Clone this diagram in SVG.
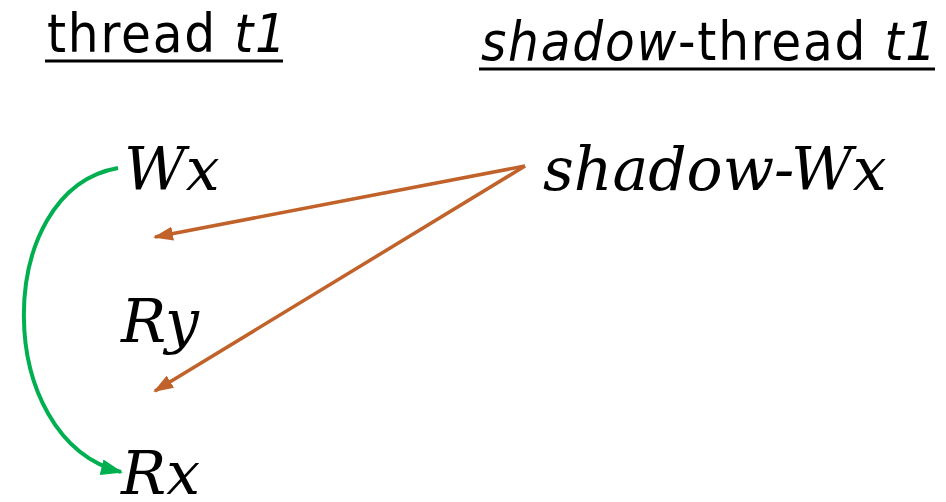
<svg xmlns="http://www.w3.org/2000/svg" width="946" height="502" viewBox="0 0 946 502">
  <style>
    .hdr { font-family: "DejaVu Sans Condensed", "Liberation Sans Narrow", "Open Sans", sans-serif; font-stretch: condensed; font-size: 54px; letter-spacing: 1.8px; fill: #000; }
    .lbl { font-family: "DejaVu Serif", "Liberation Serif", serif; font-style: italic; font-size: 60px; fill: #000; }
    .uline { stroke: #000; stroke-width: 3; }
    .orange { fill: none; stroke: #C0622A; stroke-width: 3.5; }
    .green { fill: none; stroke: #00B050; stroke-width: 4; }
  </style>
  <defs>
    <marker id="arrOrange" markerWidth="20" markerHeight="14" refX="18" refY="7" orient="auto" markerUnits="userSpaceOnUse">
      <path d="M0,0 L20,7 L0,14 z" fill="#C0622A"/>
    </marker>
    <marker id="arrGreen" markerWidth="22" markerHeight="16" refX="20" refY="8" orient="auto" markerUnits="userSpaceOnUse">
      <path d="M0,0 L22,8 L0,16 z" fill="#00B050"/>
    </marker>
  </defs>

  <g id="header-thread">
    <text class="hdr" x="47" y="52">thread <tspan font-style="italic">t1</tspan></text>
    <line class="uline" x1="45" y1="61" x2="283" y2="61"/>
  </g>
  <g id="header-shadow">
    <text class="hdr" x="481" y="60"><tspan font-style="italic">shadow</tspan>-thread <tspan font-style="italic">t1</tspan></text>
    <line class="uline" x1="479" y1="69" x2="935" y2="69"/>
  </g>

  <g id="node-wx"><text class="lbl" x="124" y="190">Wx</text></g>
  <g id="node-ry"><text class="lbl" x="121" y="342">Ry</text></g>
  <g id="node-rx"><text class="lbl" x="121" y="494">Rx</text></g>
  <g id="node-shadow-wx"><text class="lbl" x="543" y="190">shadow-Wx</text></g>

  <g id="connectors">
    <path class="green" d="M118,168 C-8,190 -8,440 121,472" marker-end="url(#arrGreen)"/>
    <line class="orange" x1="525" y1="166" x2="155" y2="237" marker-end="url(#arrOrange)"/>
    <line class="orange" x1="525" y1="166" x2="155" y2="391" marker-end="url(#arrOrange)"/>
  </g>
</svg>
